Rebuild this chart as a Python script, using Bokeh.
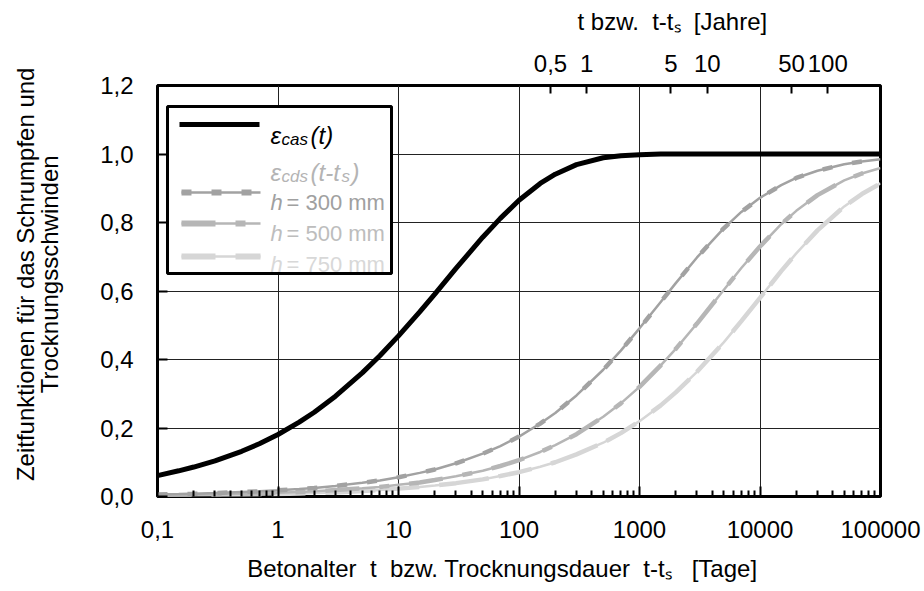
from bokeh.plotting import figure
from bokeh.models import (LogAxis, FixedTicker, Label, BoxAnnotation, Arrow, Range1d)
from bokeh.embed import file_html
from bokeh.resources import INLINE

# ---------------- data ----------------
t_days = [0.1, 0.15, 0.2, 0.3, 0.5, 0.7, 1, 1.5, 2, 3, 5, 7, 10, 15, 20, 30, 50, 70,
          100, 150, 200, 300, 500, 700, 1000, 1500, 2000, 3000, 5000, 7000,
          10000, 15000, 20000, 30000, 50000, 70000, 100000]

eps_cas = [0.061, 0.075, 0.086, 0.104, 0.132, 0.154, 0.181, 0.217, 0.246, 0.293, 0.361, 0.411,
           0.469, 0.539, 0.591, 0.666, 0.757, 0.812, 0.865, 0.914, 0.941, 0.969, 0.989, 0.995,
           0.998, 1.0, 1.0, 1.0, 1.0, 1.0, 1.0, 1.0, 1.0, 1.0, 1.0, 1.0, 1.0]

eps_cds_h300 = [0.006, 0.007, 0.008, 0.010, 0.013, 0.015, 0.018, 0.022, 0.025, 0.031, 0.040, 0.047,
                0.056, 0.069, 0.079, 0.097, 0.125, 0.147, 0.175, 0.213, 0.244, 0.295, 0.370, 0.426,
                0.491, 0.568, 0.623, 0.698, 0.783, 0.831, 0.872, 0.909, 0.930, 0.951, 0.970, 0.978, 0.985]

eps_cds_h500 = [0.003, 0.004, 0.005, 0.006, 0.008, 0.009, 0.011, 0.013, 0.015, 0.019, 0.024, 0.028,
                0.034, 0.041, 0.048, 0.059, 0.075, 0.089, 0.106, 0.130, 0.150, 0.182, 0.233, 0.272,
                0.320, 0.383, 0.431, 0.505, 0.603, 0.667, 0.730, 0.795, 0.834, 0.880, 0.923, 0.943, 0.959]

eps_cds_h750 = [0.002, 0.003, 0.003, 0.004, 0.005, 0.006, 0.007, 0.009, 0.010, 0.012, 0.016, 0.019,
                0.023, 0.028, 0.032, 0.039, 0.050, 0.060, 0.071, 0.087, 0.100, 0.123, 0.157, 0.185,
                0.220, 0.266, 0.304, 0.364, 0.450, 0.512, 0.580, 0.658, 0.710, 0.777, 0.847, 0.883, 0.914]

x_ticks = [0.1, 1, 10, 100, 1000, 10000, 100000]
x_tick_labels = ["0,1", "1", "10", "100", "1000", "10000", "100000"]
y_ticks = [0.0, 0.2, 0.4, 0.6, 0.8, 1.0, 1.2]
y_tick_labels = ["0,0", "0,2", "0,4", "0,6", "0,8", "1,0", "1,2"]
year_ticks_days = [182.5, 365, 1825, 3650, 18250, 36500]
year_tick_labels = ["0,5", "1", "5", "10", "50", "100"]

NB = "\u00a0"
x_title = "Betonalter" + NB * 2 + "t" + NB * 2 + "bzw. Trocknungsdauer" + NB * 2 + "t-t\u209b" + NB * 3 + "[Tage]"
top_title = "t bzw." + NB * 2 + "t-t\u209b" + NB * 2 + "[Jahre]"
y_title_lines = ["Zeitfunktionen für das Schrumpfen und", "Trocknungsschwinden"]

FONT = "Liberation Sans"
TICK_PX = "24px"

minor = []
for d in x_ticks[:-1]:
    for k in range(2, 10):
        minor.append(d * k)

p = figure(width=924, height=591, x_axis_type="log",
           x_range=Range1d(0.1, 100000), y_range=Range1d(0, 1.2),
           output_backend="svg", toolbar_location=None,
           min_border_left=157, min_border_right=44, min_border_top=85, min_border_bottom=95)

p.outline_line_color = "black"
p.outline_line_width = 3
p.background_fill_color = "white"
p.border_fill_color = "white"


def style_axis(ax, standoff):
    ax.major_tick_out = 0
    ax.major_tick_line_width = 2
    ax.minor_tick_line_width = 2
    ax.axis_line_color = None
    ax.major_label_standoff = standoff
    ax.major_label_text_font = FONT
    ax.major_label_text_font_size = TICK_PX
    ax.major_label_text_color = "black"
    ax.axis_label_text_font = FONT
    ax.axis_label_text_font_style = "normal"
    ax.axis_label_text_color = "black"


# bottom axis
xa = p.xaxis[0]
xa.ticker = FixedTicker(ticks=x_ticks, minor_ticks=minor)
xa.major_label_overrides = {t: l for t, l in zip(x_ticks, x_tick_labels)}
style_axis(xa, 24)
xa.major_tick_in = 10
xa.minor_tick_in = 6
xa.minor_tick_out = 0
xa.axis_label = x_title + NB * 5
xa.axis_label_text_font_size = "24px"
xa.axis_label_standoff = 14

# left axis
ya = p.yaxis[0]
ya.ticker = FixedTicker(ticks=y_ticks, minor_ticks=[])
ya.major_label_overrides = {t: l for t, l in zip(y_ticks, y_tick_labels)}
style_axis(ya, 24)
ya.major_tick_in = 10
ya.axis_label = "\n".join(NB * 5 + s for s in y_title_lines)
ya.axis_label_text_font_size = "24px"
ya.axis_label_text_line_height = 0.9
ya.axis_label_standoff = 34

# top axis in years
ta = LogAxis(ticker=FixedTicker(ticks=year_ticks_days, minor_ticks=[]))
ta.major_label_overrides = {t: l for t, l in zip(year_ticks_days, year_tick_labels)}
style_axis(ta, 14)
ta.major_tick_in = 8
ta.axis_label = NB * 46 + top_title
ta.axis_label_text_font_size = "24px"
ta.axis_label_standoff = 17
p.add_layout(ta, "above")

# grids
p.xgrid.ticker = FixedTicker(ticks=x_ticks[1:-1], minor_ticks=[])
p.ygrid.ticker = FixedTicker(ticks=y_ticks[1:-1], minor_ticks=[])
for g in (p.xgrid[0], p.ygrid[0]):
    g.grid_line_color = "#222222"
    g.grid_line_width = 1

# curves
C300, C500, C750 = "#a2a2a2", "#b6b6b6", "#d6d6d6"
p.line(t_days, eps_cds_h750, line_color=C750, line_width=2.5)
p.line(t_days, eps_cds_h750, line_color=C750, line_width=4.5, line_dash="34 20 50 10")
p.line(t_days, eps_cds_h500, line_color=C500, line_width=2.5)
p.line(t_days, eps_cds_h500, line_color=C500, line_width=4.5, line_dash="34 20 10 20")
p.line(t_days, eps_cds_h300, line_color=C300, line_width=2.5)
p.line(t_days, eps_cds_h300, line_color=C300, line_width=4.5, line_dash="10 20")
p.line(t_days, eps_cas, line_color="black", line_width=5)

# ---------------- legend (built from annotations, screen units = frame px) ----------------
p.add_layout(BoxAnnotation(left=10, right=234, bottom=223, top=390,
                           left_units="screen", right_units="screen",
                           bottom_units="screen", top_units="screen",
                           fill_color="white", fill_alpha=1.0,
                           line_color="black", line_width=3, line_alpha=1.0))


def seg(x0, x1, y, color, width, dash="solid"):
    p.add_layout(Arrow(x_start=x0, y_start=y, x_end=x1, y_end=y,
                       start_units="screen", end_units="screen", end=None,
                       line_color=color, line_width=width, line_dash=dash))


def lab(x, y, text, size="22px", color="black", style="normal"):
    p.add_layout(Label(x=x, y=y, x_units="screen", y_units="screen", text=text,
                       text_font=FONT, text_font_size=size, text_color=color,
                       text_font_style=style, text_align="left",
                       text_baseline="alphabetic"))


seg(22, 102, 372, "black", 5)
seg(24, 103, 304, C300, 2.5)
seg(24, 103, 304, C300, 6, "10 20")
seg(24, 103, 273, C500, 2.5)
seg(24, 103, 273, C500, 6, "34 20 10 20")
seg(24, 103, 240, C750, 2.5)
seg(24, 103, 240, C750, 6, "34 20 50")

# legend texts
lab(113, 361, "ε", "24px", "black", "italic")
lab(124, 357, "cas", "17px", "black", "italic")
lab(153, 361, "(t)", "24px", "black", "italic")

G = "#b4b4b4"
lab(113, 324, "ε", "24px", G, "italic")
lab(124, 320, "cds", "17px", G, "italic")
lab(153, 324, "(t-t", "24px", G, "italic")
lab(184, 320, "s", "17px", G, "italic")
lab(194, 324, ")", "24px", G, "italic")

for yb, col, txt in ((294, "#a0a0a0", "= 300 mm"), (263, "#bdbdbd", "= 500 mm"),
                     (232, "#d8d8d8", "= 750 mm")):
    lab(113, yb, "h", "22px", col, "italic")
    lab(129, yb, txt, "22px", col)

open("out.html", "w").write(file_html(p, INLINE))
